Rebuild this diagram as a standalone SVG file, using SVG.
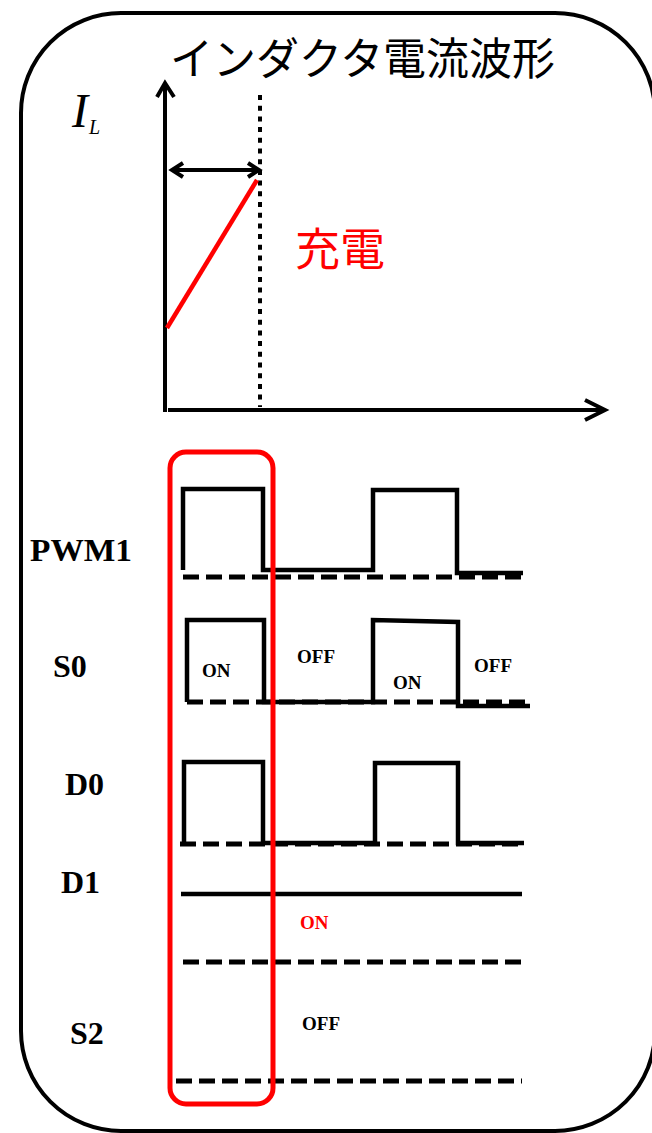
<svg xmlns="http://www.w3.org/2000/svg" width="652" height="1133" viewBox="0 0 652 1133">
<style>
.ln{fill:none;stroke:#000;stroke-width:4;stroke-linejoin:miter;stroke-linecap:butt}
.wave{fill:none;stroke:#000;stroke-width:4.5;stroke-linejoin:miter}
.dash{fill:none;stroke:#000;stroke-width:5;stroke-dasharray:16 7}
.lbl{font-family:"Liberation Serif","Times New Roman",serif;font-weight:bold;font-size:32px;fill:#000}
.st{font-family:"Liberation Serif","Times New Roman",serif;font-weight:bold;font-size:19px;fill:#000}
.red{fill:#f00}
.jp{font-family:"Noto Sans CJK JP","Noto Sans",sans-serif}
</style>
<rect id="frame" x="21" y="13" width="634" height="1118" rx="100" ry="100" fill="#fff" stroke="#000" stroke-width="4"/>
<g id="title"><text class="jp" x="170" y="75" font-size="44" textLength="385" lengthAdjust="spacingAndGlyphs" fill="#000">インダクタ電流波形</text></g>
<g id="il-label">
<text x="72" y="127" font-family="Liberation Serif,serif" font-style="italic" font-size="48" fill="#000">I</text>
<text x="89" y="134" font-family="Liberation Serif,serif" font-style="italic" font-size="20" fill="#000">L</text>
</g>
<g id="connectors">
<line class="ln" x1="165" y1="84" x2="165" y2="412"/>
<polyline class="ln" points="157,97 165,83 174,97"/>
<line class="ln" x1="168" y1="410" x2="605" y2="410"/>
<polyline class="ln" points="585,400 605,410 585,420"/>
<line x1="260" y1="95" x2="260" y2="407" stroke="#000" stroke-width="4" stroke-dasharray="5 5.7"/>
<line class="ln" x1="172" y1="170" x2="259" y2="170" stroke-width="3.5"/>
<polyline class="ln" stroke-width="3.5" points="183,163 172,170 183,177"/>
<polyline class="ln" stroke-width="3.5" points="248,163 259,170 248,177"/>
</g>
<g id="charge-line"><line x1="167" y1="328" x2="257" y2="180" stroke="#f00" stroke-width="4.5"/></g>
<g id="charge-label"><text class="jp" x="295" y="266" font-size="45" fill="#f00">充電</text></g>
<g id="labels">
<text class="lbl" x="30" y="561" textLength="102" lengthAdjust="spacingAndGlyphs">PWM1</text>
<text class="lbl" x="53" y="677">S0</text>
<text class="lbl" x="65" y="795">D0</text>
<text class="lbl" x="61" y="893">D1</text>
<text class="lbl" x="70" y="1044">S2</text>
</g>
<g id="pwm1">
<polyline class="wave" points="183,570 183,489 263,489 263,570 373,570 373,490 457,490 457,573 523,573"/>
<line class="dash" x1="183" y1="577" x2="527" y2="577"/>
</g>
<g id="s0">
<polyline class="wave" points="187,702 187,620 264,620 264,702 373,702 373,620 458,622 458,706 530,706"/>
<line class="dash" x1="187" y1="702" x2="530" y2="702"/>
<text class="st" x="202" y="677">ON</text>
<text class="st" x="297" y="663">OFF</text>
<text class="st" x="393" y="689">ON</text>
<text class="st" x="474" y="672">OFF</text>
</g>
<g id="d0">
<polyline class="wave" points="184,845 184,762 263,762 263,843 375,843 375,763 458,763 458,843 524,843"/>
<line class="dash" x1="180" y1="844" x2="524" y2="844"/>
</g>
<g id="d1">
<line x1="181" y1="894" x2="522" y2="894" stroke="#000" stroke-width="4.5"/>
<text class="st red" x="300" y="929">ON</text>
<line class="dash" x1="183" y1="962" x2="528" y2="962"/>
</g>
<g id="s2">
<text class="st" x="302" y="1030">OFF</text>
<line class="dash" x1="176" y1="1081" x2="522" y2="1081"/>
</g>
<g id="highlight"><rect x="170" y="452" width="103" height="652" rx="16" ry="16" fill="none" stroke="#f00" stroke-width="5"/></g>
</svg>
